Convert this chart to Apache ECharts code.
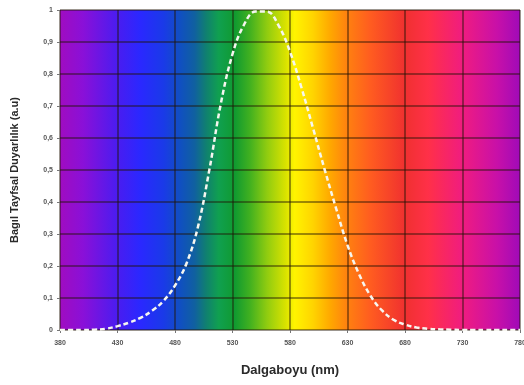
<!DOCTYPE html>
<html>
<head>
<meta charset="utf-8">
<script src="https://cdn.jsdelivr.net/npm/echarts@6/dist/echarts.min.js"></script>
<style>
  html, body { margin: 0; padding: 0; background: #ffffff; }
  #chart { width: 524px; height: 385px; }
</style>
</head>
<body>
<div id="chart"></div>
<script>
// Wavelength samples (nm), 10 nm steps
const wavelengths = [
  380, 390, 400, 410, 420, 430, 440, 450, 460, 470,
  480, 490, 500, 510, 520, 530, 540, 550, 560, 570,
  580, 590, 600, 610, 620, 630, 640, 650, 660, 670,
  680, 690, 700, 710, 720, 730, 740, 750, 760, 770, 780
];

// Relative spectral sensitivity (photopic eye response)
const sensitivity = [
  0.000, 0.000, 0.000, 0.001, 0.004, 0.012, 0.023, 0.038, 0.060, 0.091,
  0.139, 0.208, 0.323, 0.503, 0.710, 0.862, 0.954, 0.995, 0.995, 0.952,
  0.870, 0.757, 0.631, 0.503, 0.381, 0.265, 0.175, 0.107, 0.061, 0.032,
  0.017, 0.008, 0.004, 0.002, 0.001, 0.000, 0.000, 0.000, 0.000, 0.000, 0.000
];

// Y tick values
const yTicks = [0, 0.1, 0.2, 0.3, 0.4, 0.5, 0.6, 0.7, 0.8, 0.9, 1];

// Visible spectrum colours behind the plot: [wavelength, colour]
const spectrum = [
  [380, '#a00cc0'], [400, '#8a10d8'], [430, '#4a1cf0'], [450, '#2a28ff'],
  [470, '#1a3ae8'], [485, '#1050c0'], [497, '#1060a0'], [507, '#108070'],
  [518, '#10a050'], [532, '#109a30'], [545, '#40b020'], [560, '#90cc10'],
  [576, '#d8e200'], [584, '#fff400'], [600, '#ffd400'], [615, '#ffa800'],
  [630, '#ff8010'], [650, '#ff5c20'], [680, '#f03030'], [700, '#ff3048'],
  [730, '#f01c80'], [760, '#c810a8'], [780, '#a00ab8']
];

const wlMin = wavelengths[0];
const wlMax = wavelengths[wavelengths.length - 1];
const stops = spectrum.map(([w, c]) => ({ offset: (w - wlMin) / (wlMax - wlMin), color: c }));

const chart = echarts.init(document.getElementById('chart'), null, { renderer: 'canvas' });

const gridLine = { show: true, lineStyle: { color: 'rgba(35,20,5,0.6)', width: 1.5 } };
const tickFont = { fontFamily: 'Liberation Sans, Arial, sans-serif', fontSize: 7, fontWeight: 'bold', color: '#555' };

chart.setOption({
  animation: false,
  grid: {
    left: 60, right: 4, top: 10, bottom: 55,
    outerBoundsMode: 'none',
    containLabel: false,
    show: true,
    borderWidth: 0,
    backgroundColor: new echarts.graphic.LinearGradient(0, 0, 1, 0, stops)
  },
  xAxis: {
    type: 'category',
    data: wavelengths.map(String),
    boundaryGap: false,
    name: 'Dalgaboyu (nm)',
    nameLocation: 'middle',
    nameGap: 34,
    nameTextStyle: { fontFamily: 'Liberation Sans, Arial, sans-serif', fontSize: 13, fontWeight: 'bold', color: '#2a2a2a' },
    axisLine: { show: false },
    axisTick: { show: true, interval: 4, length: 3, lineStyle: { color: '#777' } },
    axisLabel: Object.assign({ interval: 4, margin: 10 }, tickFont),
    splitLine: Object.assign({ interval: 4 }, gridLine)
  },
  yAxis: {
    type: 'value',
    min: yTicks[0],
    max: yTicks[yTicks.length - 1],
    interval: yTicks[1] - yTicks[0],
    name: 'Bagıl Tayfsal Duyarlılık (a.u)',
    nameLocation: 'middle',
    nameGap: 40,
    nameTextStyle: { fontFamily: 'Liberation Sans, Arial, sans-serif', fontSize: 11, fontWeight: 'bold', color: '#2a2a2a' },
    axisLine: { show: false },
    axisTick: { show: true, length: 3, lineStyle: { color: '#777' } },
    axisLabel: Object.assign({
      margin: 7,
      formatter: v => (v === 0 || v === 1) ? String(v) : v.toFixed(1).replace('.', ',')
    }, tickFont),
    splitLine: gridLine
  },
  series: [{
    type: 'line',
    data: sensitivity,
    smooth: 0.4,
    symbol: 'none',
    lineStyle: { color: '#f6f6f0', width: 2.5, type: [5, 3] },
    z: 5
  }]
});
</script>
</body>
</html>
